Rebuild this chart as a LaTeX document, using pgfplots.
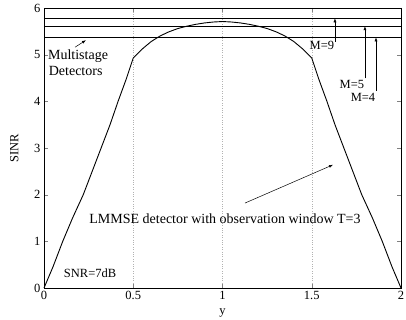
\documentclass[border=0pt]{standalone}
\usepackage{pgfplots}
\pgfplotsset{compat=1.18}
\usepackage{fontspec}
\setmainfont{Liberation Serif}
\usetikzlibrary{calc,arrows.meta}
\begin{document}
\begin{tikzpicture}
\begin{axis}[
  scale only axis,
  width=357pt, height=280pt,
  xmin=0, xmax=2, ymin=0, ymax=6,
  xtick={0,0.5,1,1.5,2},
  xticklabels={0,0.5,1,1.5,2},
  ytick={0,1,2,3,4,5,6},
  tick align=inside,
  major tick length=4pt,
  axis line style={line width=0.8pt},
  xmajorgrids,
  major grid style={dotted, gray!60, line width=0.5pt},
  tick label style={font=\fontsize{12.5}{14}\selectfont},
  /pgf/number format/assume math mode=true,
  xlabel={y}, ylabel={SINR},
  label style={font=\fontsize{12.5}{14}\selectfont},
  xlabel style={at={(axis description cs:0.5,0)}, anchor=north, yshift=-17pt},
  ylabel style={at={(axis description cs:0,0.5)}, anchor=south, yshift=22pt},
  clip=false,
]
\addplot[black, line width=0.9pt] coordinates {
(0,0)(0.05,0.45)(0.105,1)(0.16,1.5)(0.22,2)(0.27,2.5)(0.32,3)(0.37,3.5)(0.415,4)(0.46,4.47)(0.5,4.93)
(0.55,5.12)(0.6,5.28)(0.65,5.40)(0.7,5.49)(0.75,5.56)(0.8,5.61)(0.85,5.65)(0.9,5.68)(0.95,5.70)(1,5.71)
(1.05,5.70)(1.1,5.68)(1.15,5.65)(1.2,5.61)(1.25,5.56)(1.3,5.49)(1.35,5.40)(1.4,5.28)(1.45,5.12)(1.5,4.93)
(1.54,4.47)(1.585,4)(1.63,3.5)(1.68,3)(1.73,2.5)(1.78,2)(1.84,1.5)(1.895,1)(1.95,0.45)(2,0)
};
\addplot[black, line width=0.7pt] coordinates {(0,5.78)(2,5.78)};
\addplot[black, line width=0.7pt] coordinates {(0,5.61)(2,5.61)};
\addplot[black, line width=0.7pt] coordinates {(0,5.37)(2,5.37)};
\node[anchor=west, font=\fontsize{14}{16}\selectfont, inner sep=0pt] at (axis cs:0.022,4.97) {Multistage};
\node[anchor=west, font=\fontsize{14}{16}\selectfont, inner sep=0pt] at (axis cs:0.026,4.65) {Detectors};
\draw[-{Latex[length=4pt,width=3pt]}, line width=0.5pt] (axis cs:0.174,5.16) -- (axis cs:0.235,5.31);
\node[font=\fontsize{12.5}{14}\selectfont, inner sep=0pt] at (axis cs:1.557,5.19) {M=9};
\draw[-{Latex[length=4pt,width=3pt]}, line width=0.5pt] (axis cs:1.630,5.28) -- (axis cs:1.630,5.78);
\node[font=\fontsize{12.5}{14}\selectfont, inner sep=0pt] at (axis cs:1.725,4.37) {M=5};
\draw[-{Latex[length=4pt,width=3pt]}, line width=0.5pt] (axis cs:1.798,4.49) -- (axis cs:1.798,5.61);
\node[font=\fontsize{12.5}{14}\selectfont, inner sep=0pt] at (axis cs:1.787,4.09) {M=4};
\draw[-{Latex[length=4pt,width=3pt]}, line width=0.5pt] (axis cs:1.86,4.23) -- (axis cs:1.86,5.37);
\node[font=\fontsize{14}{16}\selectfont, inner sep=0pt] at (axis cs:1.014,1.48) {LMMSE detector with observation window T=3};
\draw[-{Latex[length=4pt,width=3pt]}, line width=0.5pt] (axis cs:1.126,1.82) -- (axis cs:1.619,2.64);
\node[font=\fontsize{12.5}{14}\selectfont, inner sep=0pt] at (axis cs:0.258,0.32) {SNR=7dB};
\end{axis}
\pgfresetboundingbox
\path ($(current axis.south west)+(-44pt,-32pt)$) rectangle ($(current axis.north east)+(5pt,8pt)$);
\end{tikzpicture}
\end{document}
